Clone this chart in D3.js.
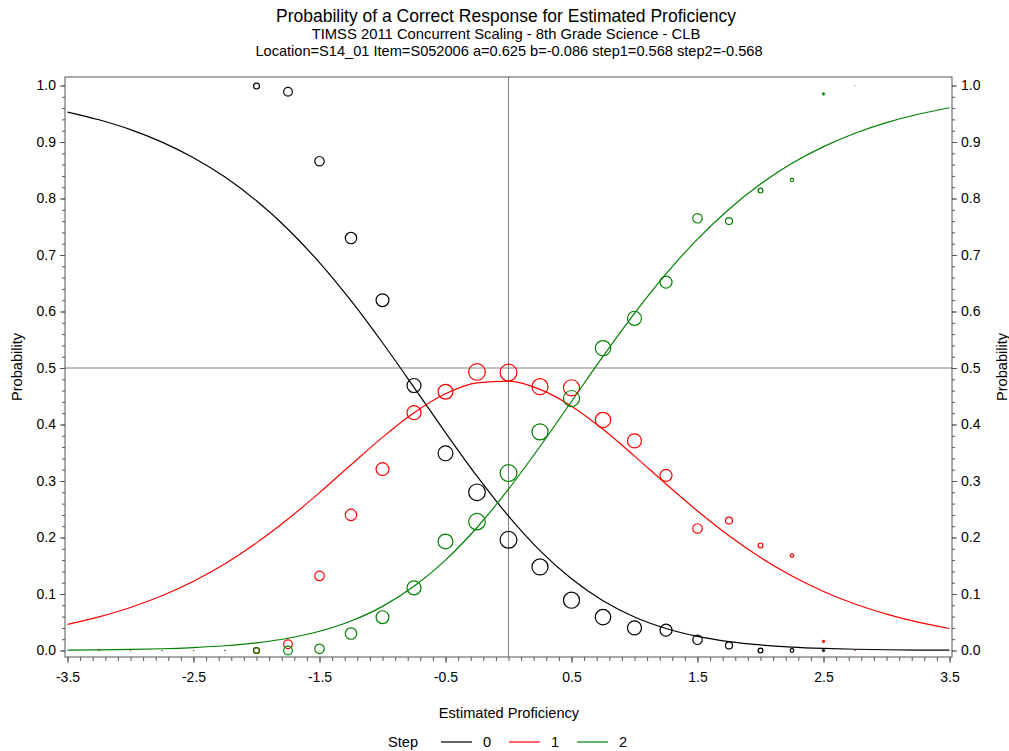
<!DOCTYPE html>
<html>
<head>
<meta charset="utf-8">
<script src="https://cdn.jsdelivr.net/npm/d3@7/dist/d3.min.js"></script>
<style>
    body { margin: 0; background: #fff; }
    svg text { font-family: "Liberation Sans", Arial, sans-serif; fill: #000; }
</style>
</head>
<body>
<div id="chart"></div>
<script>
// model curves, read at every 0.25 of proficiency
const curveTheta = [-3.5, -3.25, -3, -2.75, -2.5, -2.25, -2, -1.75, -1.5, -1.25, -1, -0.75, -0.5, -0.25, 0,
    0.25, 0.5, 0.75, 1, 1.25, 1.5, 1.75, 2, 2.25, 2.5, 2.75, 3, 3.25, 3.5];
const curveStep0 = [0.9530, 0.9393, 0.9219, 0.8998, 0.8722, 0.8379, 0.7959, 0.7456, 0.6866, 0.6191, 0.5447, 0.4658, 0.3857, 0.3085, 0.2379,
    0.1768, 0.1269, 0.0881, 0.0594, 0.0390, 0.0250, 0.0158, 0.0098, 0.0060, 0.0037, 0.0022, 0.0013, 0.0008, 0.0005];
const curveStep1 = [0.0463, 0.0596, 0.0762, 0.0970, 0.1227, 0.1537, 0.1905, 0.2327, 0.2794, 0.3287, 0.3772, 0.4206, 0.4543, 0.4738, 0.4766,
    0.4621, 0.4324, 0.3915, 0.3441, 0.2947, 0.2469, 0.2031, 0.1646, 0.1318, 0.1045, 0.0822, 0.0644, 0.0501, 0.0389];
const curveStep2 = [0.0007, 0.0011, 0.0019, 0.0031, 0.0052, 0.0084, 0.0136, 0.0217, 0.0340, 0.0522, 0.0781, 0.1136, 0.1600, 0.2177, 0.2856,
    0.3611, 0.4407, 0.5204, 0.5966, 0.6664, 0.7281, 0.7811, 0.8256, 0.8622, 0.8918, 0.9155, 0.9343, 0.9491, 0.9606];

// observed proportions and group weights
const obsTheta = [-3.25, -3, -2.75, -2.5, -2.25, -2, -1.75, -1.5, -1.25, -1, -0.75, -0.5, -0.25, 0,
    0.25, 0.5, 0.75, 1, 1.25, 1.5, 1.75, 2, 2.25, 2.5, 2.75];
const obsStep0 = [0, 0, 0, 0, 0, 0.999, 0.989, 0.866, 0.730, 0.620, 0.469, 0.349, 0.280, 0.196,
    0.148, 0.089, 0.059, 0.040, 0.036, 0.019, 0.009, 0, 0, 0, 0];
const obsStep1 = [0, 0, 0, 0, 0, 0, 0.011, 0.132, 0.240, 0.321, 0.421, 0.458, 0.493, 0.492,
    0.467, 0.465, 0.408, 0.371, 0.310, 0.216, 0.230, 0.186, 0.168, 0.016, 0];
const obsStep2 = [0, 0, 0, 0, 0, 0, 0, 0.003, 0.030, 0.059, 0.111, 0.193, 0.228, 0.314,
    0.387, 0.446, 0.535, 0.588, 0.652, 0.765, 0.760, 0.814, 0.833, 0.985, 1.0];
const obsWeight = [0.1, 0.1, 0.1, 0.1, 0.1, 12, 26, 31, 45, 57, 68, 76, 95, 98,
    89, 89, 82, 68, 50, 31, 17, 8, 4.5, 2.6, 0.1];

const steps = ['0', '1', '2'];
const xTicks = [-3.5, -2.5, -1.5, -0.5, 0.5, 1.5, 2.5, 3.5];
const xTickLabels = ['-3.5', '-2.5', '-1.5', '-0.5', '0.5', '1.5', '2.5', '3.5'];
const yTicks = [0, 0.1, 0.2, 0.3, 0.4, 0.5, 0.6, 0.7, 0.8, 0.9, 1.0];
const yTickLabels = ['0.0', '0.1', '0.2', '0.3', '0.4', '0.5', '0.6', '0.7', '0.8', '0.9', '1.0'];

const width = 1009;
const height = 751;
const colors = ['#000000', '#ff0000', '#008000'];
const frame = { left: 65, right: 952, top: 77, bottom: 657 };
const font = '"Liberation Sans", Arial, sans-serif';

const svg = d3.select('#chart').append('svg')
    .attr('width', width)
    .attr('height', height);

const x = d3.scaleLinear().domain([-3.5, 3.5]).range([67.5, 949.5]);
const y = d3.scaleLinear().domain([0, 1]).range([650.5, 85.5]);
const r = d3.scaleSqrt().domain([0, 100]).range([0, 8.5]);

// titles
svg.append('text').attr('x', 506).attr('y', 22).attr('text-anchor', 'middle')
    .style('font-size', '17.5px').text('Probability of a Correct Response for Estimated Proficiency');
svg.append('text').attr('x', 506).attr('y', 39).attr('text-anchor', 'middle')
    .style('font-size', '14.8px').text('TIMSS 2011 Concurrent Scaling - 8th Grade Science - CLB');
svg.append('text').attr('x', 509).attr('y', 56).attr('text-anchor', 'middle')
    .style('font-size', '14.6px').text('Location=S14_01 Item=S052006 a=0.625 b=-0.086 step1=0.568 step2=-0.568');

// reference lines
svg.append('line')
    .attr('x1', x(0)).attr('x2', x(0)).attr('y1', frame.top).attr('y2', frame.bottom)
    .attr('stroke', '#808080').attr('stroke-width', 1);
svg.append('line')
    .attr('x1', frame.left).attr('x2', frame.right).attr('y1', y(0.5)).attr('y2', y(0.5))
    .attr('stroke', '#808080').attr('stroke-width', 1);

// curves
const curves = [curveStep0, curveStep1, curveStep2];
const line = d3.line()
    .x((d, i) => x(curveTheta[i]))
    .y(d => y(d))
    .curve(d3.curveMonotoneX);

curves.forEach((c, k) => {
    svg.append('path')
        .datum(c)
        .attr('d', line)
        .attr('fill', 'none')
        .attr('stroke', colors[k])
        .attr('stroke-width', 1.2);
});

// observed bubbles, tiny groups drawn as dots
const observed = [obsStep0, obsStep1, obsStep2];
observed.forEach((o, k) => {
    svg.append('g')
        .selectAll('circle')
        .data(o)
        .enter().append('circle')
        .attr('cx', (d, i) => x(obsTheta[i]))
        .attr('cy', d => y(d))
        .attr('r', (d, i) => r(obsWeight[i]))
        .attr('fill', (d, i) => r(obsWeight[i]) < 1.5 ? colors[k] : 'none')
        .attr('stroke', colors[k])
        .attr('stroke-width', (d, i) => r(obsWeight[i]) < 1.5 ? 0.4 : 1.2);
});

// frame
svg.append('rect')
    .attr('x', frame.left).attr('y', frame.top)
    .attr('width', frame.right - frame.left).attr('height', frame.bottom - frame.top)
    .attr('fill', 'none').attr('stroke', '#555').attr('stroke-width', 1);

// x axis with minor ticks
const xMinor = d3.range(-35, 36).map(v => v / 10);
svg.append('g')
    .attr('transform', `translate(0,${frame.bottom})`)
    .call(d3.axisBottom(x).tickValues(xMinor).tickSize(4).tickFormat(''))
    .call(g => g.select('.domain').remove());
svg.append('g')
    .attr('transform', `translate(0,${frame.bottom})`)
    .call(d3.axisBottom(x).tickValues(xTicks).tickSize(6).tickPadding(9)
        .tickFormat((d, i) => xTickLabels[i]))
    .call(g => g.select('.domain').remove())
    .call(g => g.selectAll('text').style('font-size', '14px').style('font-family', font));

// y axes left and right
const yMinor = d3.range(0, 51).map(v => v / 50);
[[frame.left, d3.axisLeft], [frame.right, d3.axisRight]].forEach(([pos, axis]) => {
    svg.append('g')
        .attr('transform', `translate(${pos},0)`)
        .call(axis(y).tickValues(yMinor).tickSize(3).tickFormat(''))
        .call(g => g.select('.domain').remove());
    svg.append('g')
        .attr('transform', `translate(${pos},0)`)
        .call(axis(y).tickValues(yTicks).tickSize(5).tickPadding(4)
            .tickFormat((d, i) => yTickLabels[i]))
        .call(g => g.select('.domain').remove())
        .call(g => g.selectAll('text').style('font-size', '14px').style('font-family', font));
});
svg.selectAll('.tick line').attr('stroke', '#555');

// axis labels
svg.append('text').attr('x', 509).attr('y', 718).attr('text-anchor', 'middle')
    .style('font-size', '14.6px').text('Estimated Proficiency');
svg.append('text').attr('transform', `translate(22,${(frame.top + frame.bottom) / 2}) rotate(-90)`)
    .attr('text-anchor', 'middle').style('font-size', '14.6px').text('Probability');
svg.append('text').attr('transform', `translate(1007,${(frame.top + frame.bottom) / 2}) rotate(-90)`)
    .attr('text-anchor', 'middle').style('font-size', '14.6px').text('Probability');

// legend
const legend = svg.append('g').attr('transform', 'translate(0,742)');
legend.append('text').attr('x', 388).attr('y', 5).style('font-size', '14.6px').text('Step');
steps.forEach((s, k) => {
    const lx = 441 + k * 68;
    legend.append('line')
        .attr('x1', lx).attr('x2', lx + 31).attr('y1', 0).attr('y2', 0)
        .attr('stroke', colors[k]).attr('stroke-width', 1.2);
    legend.append('text').attr('x', lx + 42).attr('y', 5).style('font-size', '14.6px').text(s);
});
</script>
</body>
</html>
